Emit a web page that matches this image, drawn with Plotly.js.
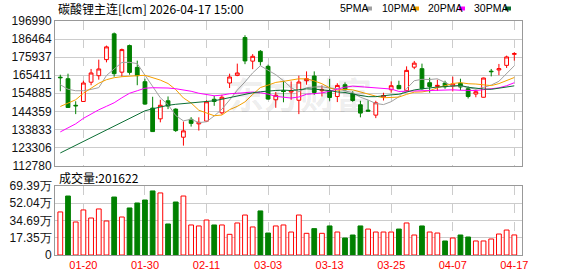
<!DOCTYPE html>
<html><head><meta charset="utf-8">
<script src="https://cdn.plot.ly/plotly-3.0.1.min.js"></script>
<style>html,body{margin:0;padding:0;background:#fff;}#chart{width:578px;height:276px;}</style>
</head><body><div id="chart"></div>
<script>
const dates=["01-15","01-16","01-19","01-20","01-21","01-22","01-23","01-26","01-27","01-28","01-29","01-30","02-02","02-03","02-04","02-05","02-06","02-09","02-10","02-11","02-12","02-13","02-24","02-25","02-26","02-27","03-02","03-03","03-04","03-05","03-06","03-09","03-10","03-11","03-12","03-13","03-16","03-17","03-18","03-19","03-20","03-23","03-24","03-25","03-26","03-27","03-30","03-31","04-01","04-02","04-03","04-07","04-08","04-09","04-10","04-13","04-14","04-15","04-16","04-17"];
const openP=[164240,163360,147870,150090,161320,165120,174480,189500,167170,182660,169970,161610,146230,139970,150500,145640,129270,139680,137050,138630,151380,143480,160850,165290,187340,173600,179330,170560,151080,156350,155590,150790,162190,164940,156350,156350,153010,159860,154590,148160,145060,142140,152660,156930,159450,156350,170090,169210,161030,158860,160850,159100,160730,157520,154420,152550,167750,168450,171140,177570];
const highP=[165700,166290,150210,162190,169040,174480,182660,190270,180910,183250,173890,163360,152840,151080,153010,146110,138390,140970,140850,150790,153420,154010,166290,172140,188690,177690,180030,171550,155590,161900,161790,165120,167630,167630,159450,163190,160730,161200,156050,150500,150790,150500,155180,161790,162190,170560,173720,172140,163950,162780,162190,164530,163360,158860,156930,163950,169040,171960,176810,178860];
const lowP=[156050,146400,142720,149910,159560,162780,172900,164530,164530,165700,159560,148160,132370,137930,145640,132370,124360,135470,133130,138220,147570,142490,157930,164830,171840,168920,170970,151080,146410,149620,151080,142720,159860,154010,153010,150500,149740,156350,149910,140850,144360,140380,150670,155180,157220,156050,168920,156930,155180,156350,157520,155940,156640,151840,152550,152430,164710,165410,169620,173890];
const closeP=[163950,146580,147570,160850,166700,169040,181900,166290,180320,167050,165120,148570,132550,147870,147400,133130,132950,137340,137930,149910,150090,152550,164360,166700,173720,176410,173310,151490,153720,155940,156350,161430,163360,155350,156930,152430,159450,156930,150670,143310,144480,149330,153600,159270,157520,168220,172430,157520,158860,159450,158690,160260,158510,153010,155760,163770,167460,169210,176050,177980];
const ma5=[159860,157220,156350,156350,157110,158160,165240,168980,172840,172900,172140,165470,158740,152250,148280,141900,138800,139740,137750,138280,141670,145590,150970,156700,161490,166760,170910,168340,165700,162190,158160,155760,158160,158510,158690,157930,157520,156230,155290,152550,150970,148920,148280,149970,152840,157570,162190,163010,162900,163310,161380,158980,159150,157980,157220,158280,159680,161840,166460,170910];
const ma10=[147170,149040,151080,154880,157810,160730,162780,163950,164530,165000,165120,165350,163830,162550,160560,156990,152140,149210,145000,143250,141790,142190,145350,147220,149860,154180,158220,159620,161200,161840,162430,163310,163250,162080,160440,158040,156640,157170,156870,155590,154420,153190,152250,152600,152660,154240,155530,155640,156410,158040,159450,160560,161080,160440,160260,159800,159330,160500,162190,164070];
const ma20=[132370,134710,137050,140260,142900,145240,147280,149330,152250,154880,156350,157810,158100,158220,157930,157520,156930,156050,154880,154120,153420,153770,154590,154880,155180,155590,155180,154420,153070,152550,152080,152720,154300,154650,155120,156110,157400,158390,159040,158690,158390,158220,157750,157340,155940,156110,156050,156410,156640,156810,156930,156870,156640,156520,156460,156990,157400,158040,159270,161030];
const ma30=[120090,122310,124530,126700,128920,131140,133310,135530,137750,139910,142140,144650,145820,146990,147870,148450,148860,149330,149620,149910,150500,151380,152370,153420,154300,155180,155760,156230,156520,156700,156460,156930,157460,157280,156930,156410,155640,155350,154360,153540,152900,152900,153600,153950,154300,155470,156810,157460,158160,158510,158740,159040,159450,158390,157810,157340,157170,157750,158510,159210];
const volWan=[43.3,59.3,33.2,45.3,37.2,46.3,34.2,58.3,38.2,47.3,52.3,55.3,64.4,62.4,31.2,53.3,59.3,30.2,29.2,35.2,30.2,30.2,20.8,32.2,40.2,28.2,44.3,22.1,29.2,30.2,23.1,40.2,21.8,26.5,21.8,29.2,23.1,17.1,20.1,29.2,26.1,23.1,23.1,23.1,26.1,32.2,20.1,29.2,23.1,22.1,14.1,17.1,20.1,18.1,14.1,14.1,16.1,21.1,25.1,20.1622];
const volUp=[1,0,1,1,1,1,1,0,1,0,0,0,0,1,0,0,1,1,1,1,0,1,1,1,1,1,0,0,1,1,1,1,1,0,1,0,1,0,0,0,1,1,1,1,0,1,1,0,1,1,0,1,0,0,1,1,1,1,1,1];
const priceTicks=[112780,123306,133833,144359,154885,165411,175937,186464,196990];
const priceTickText=["112780","123306","133833","144359","154885","165411","175937","186464","196990"];
const volTicks=[0,17.35,34.69,52.04,69.39];
const volTickText=["0","17.35万","34.69万","52.04万","69.39万"];
const xTickVals=["01-20","01-30","02-11","03-03","03-13","03-25","04-07","04-17"];
const maNames=["5PMA","10PMA","20PMA","30PMA"];
const maColors=["#a0a0a0","#f5a000","#ff00ff","#0b6e34"];
const RED="#ff0000", GREEN="#008000";

const PL=55, PR=522, PT=21, PB=255;
const px=x=>(x-PL)/(PR-PL);
const py=y=>(PB-y)/(PB-PT);

const traces=[];
traces.push({type:'candlestick',x:dates,open:openP,high:highP,low:lowP,close:closeP,xaxis:'x2',yaxis:'y',
  increasing:{line:{color:RED,width:1},fillcolor:'#ffffff'},
  decreasing:{line:{color:GREEN,width:1},fillcolor:GREEN},
  whiskerwidth:0,hoverinfo:'skip'});
[ma5,ma10,ma20,ma30].forEach((m,i)=>{
  traces.push({type:'scatter',mode:'lines',x:dates,y:m,xaxis:'x2',yaxis:'y',line:{color:maColors[i],width:1},hoverinfo:'skip'});
});
traces.push({type:'bar',x:dates,y:volWan,xaxis:'x',yaxis:'y2',width:0.62,
  marker:{color:volUp.map(u=>u?'#ffffff':GREEN),line:{color:volUp.map(u=>u?RED:GREEN),width:1}},hoverinfo:'skip'});

const tickFont={family:'Liberation Sans, Arial, sans-serif',size:12,color:'#111'};
const xCommon={type:'category',range:[-0.69,60],tickvals:xTickVals,showgrid:true,gridcolor:'#cccccc',griddash:'dash',gridwidth:1,
  showline:true,linecolor:'#999999',linewidth:1,mirror:true,ticks:'',zeroline:false,fixedrange:true,rangeslider:{visible:false}};
const annotations=[
  {text:'碳酸锂主连[lcm] 2026-04-17 15:00',x:px(56),y:py(8.5),xref:'paper',yref:'paper',xanchor:'left',yanchor:'middle',showarrow:false,font:{family:'Noto Sans CJK SC',size:12,color:'#000'}},
  {text:'成交量:201622',x:px(57),y:py(177),xref:'paper',yref:'paper',xanchor:'left',yanchor:'middle',showarrow:false,font:{family:'Noto Sans CJK SC',size:12,color:'#000'}},
  {text:'东方财富',x:px(300),y:py(93),xref:'paper',yref:'paper',xanchor:'center',yanchor:'middle',showarrow:false,font:{family:'Noto Sans CJK SC',size:36,color:'rgba(0,0,0,0.08)',weight:700}}
];
const legX=[338,380,426,472], legM=[366,413,459,505];
const shapes=[];
maNames.forEach((n,i)=>{
  annotations.push({text:n,x:px(legX[i]),y:py(8.5),xref:'paper',yref:'paper',xanchor:'left',yanchor:'middle',showarrow:false,font:{family:'Liberation Sans, Arial, sans-serif',size:10.5,color:'#000'}});
  shapes.push({type:'rect',xref:'paper',yref:'paper',x0:px(legM[i]),x1:px(legM[i]+6),y0:py(10.5),y1:py(6.5),fillcolor:maColors[i],line:{width:0}});
});

const layout={width:578,height:276,margin:{l:PL,r:578-PR,t:PT,b:276-PB,pad:0},
  paper_bgcolor:'#ffffff',plot_bgcolor:'#ffffff',showlegend:false,hovermode:false,dragmode:false,
  xaxis:Object.assign({},xCommon,{anchor:'y2',domain:[0,1],tickfont:{family:'Liberation Sans, Arial, sans-serif',size:11,color:RED}}),
  xaxis2:Object.assign({},xCommon,{anchor:'y',domain:[0,1],showticklabels:false}),
  yaxis:{domain:[py(165.5),1],range:[112780,196990],tickvals:priceTicks,ticktext:priceTickText,tickfont:tickFont,showgrid:true,gridcolor:'#cccccc',
    showline:true,linecolor:'#999999',linewidth:1,mirror:true,ticks:'',zeroline:false,fixedrange:true,anchor:'x2'},
  yaxis2:{domain:[0,py(186)],range:[0,69.39],tickvals:volTicks,ticktext:volTickText,tickfont:tickFont,showgrid:true,gridcolor:'#cccccc',
    showline:true,linecolor:'#999999',linewidth:1,mirror:true,ticks:'',zeroline:false,fixedrange:true,anchor:'x'},
  annotations:annotations,shapes:shapes};
Plotly.newPlot('chart',traces,layout,{displayModeBar:false,staticPlot:true});
</script></body></html>
